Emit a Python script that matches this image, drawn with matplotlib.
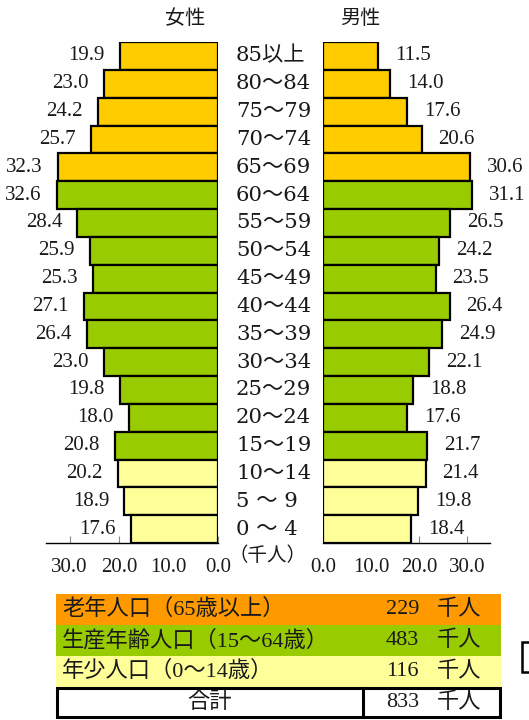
import matplotlib
matplotlib.use("Agg")
import matplotlib.pyplot as plt
from matplotlib.patches import Rectangle
from matplotlib.transforms import blended_transform_factory

plt.rcParams['font.family'] = ['Liberation Serif', 'Noto Sans CJK JP', 'DejaVu Sans']

# ---- data (top to bottom) ----
age_groups = ["85以上", "80～84", "75～79", "70～74", "65～69", "60～64", "55～59",
              "50～54", "45～49", "40～44", "35～39", "30～34", "25～29", "20～24",
              "15～19", "10～14", "5 ～ 9", "0 ～ 4"]
female = [19.9, 23.0, 24.2, 25.7, 32.3, 32.6, 28.4, 25.9, 25.3, 27.1, 26.4, 23.0,
          19.8, 18.0, 20.8, 20.2, 18.9, 17.6]
male = [11.5, 14.0, 17.6, 20.6, 30.6, 31.1, 26.5, 24.2, 23.5, 26.4, 24.9, 22.1,
        18.8, 17.6, 21.7, 21.4, 19.8, 18.4]
group_of_bar = ["old"] * 5 + ["work"] * 10 + ["young"] * 3
xticks = [0, 10, 20, 30]
xtick_labels = ["0.0", "10.0", "20.0", "30.0"]

summary_labels = ["老年人口（65歳以上）", "生産年齢人口（15～64歳）", "年少人口（0～14歳）"]
summary_values = [229, 483, 116]
total_label = "合計"
total_value = 833
unit = "千人"

bar_colors = {"old": "#FFCC00", "work": "#99CC00", "young": "#FFFF99"}
table_colors = ["#FF9900", "#99CC00", "#FFFF99"]

W, H = 529, 720
fig = plt.figure(figsize=(W / 100, H / 100), dpi=100)
FS = 15
FS_T = 16
TXT = "#1a1a1a"
AGE_FAMILY = ['DejaVu Serif', 'Noto Sans CJK JP']

def fr(x0, y0, x1, y1):
    # pixel box (top-left origin) -> figure fraction rect
    return [x0 / W, 1 - y1 / H, (x1 - x0) / W, (y1 - y0) / H]

n = len(age_groups)
ypos = list(range(n))
colors = [bar_colors[g] for g in group_of_bar]

axL = fig.add_axes(fr(46, 42, 218, 543))
axR = fig.add_axes(fr(323, 42, 490, 543))

for ax, vals, xmax, side in [(axL, female, 34.75, "L"), (axR, male, 34.8, "R")]:
    ax.barh(ypos, vals, height=1.0, color=colors, edgecolor="black", linewidth=1.6, zorder=3)
    ax.set_ylim(n - 0.5, -0.5)
    ax.set_xlim(0, xmax)
    if side == "L":
        ax.invert_xaxis()
    for s in ["top", "left", "right"]:
        ax.spines[s].set_visible(False)
    ax.spines["bottom"].set_linewidth(1.0)
    ax.set_yticks([])
    ax.set_xticks(xticks)
    ax.set_xticklabels(xtick_labels)
    ax.tick_params(axis="x", direction="in", length=5, width=0.8, color="#888888",
                   labelsize=FS, pad=11, labelcolor=TXT)
    ax.patch.set_alpha(0)
    for y, v in zip(ypos, vals):
        if side == "L":
            ax.annotate(f"{v:.1f}", xy=(v, y), xytext=(-11, 0), textcoords="offset points",
                        ha="right", va="center", fontsize=FS, color=TXT)
        else:
            ax.annotate(f"{v:.1f}", xy=(v, y), xytext=(12, 0), textcoords="offset points",
                        ha="left", va="center", fontsize=FS, color=TXT)

# age labels between the pyramids
tr = blended_transform_factory(fig.transFigure, axL.transData)
for y, lab in zip(ypos, age_groups):
    fig.text(236 / W, y, lab, transform=tr, ha="left", va="center", fontsize=15.3,
             color=TXT, family=AGE_FAMILY)

# titles
fig.text(185 / W, 1 - 20 / H, "女性", ha="center", va="center", fontsize=14.5, color=TXT)
fig.text(360 / W, 1 - 20 / H, "男性", ha="center", va="center", fontsize=14.5, color=TXT)
fig.text(267 / W, 1 - 556 / H, "（千人）", ha="center", va="center", fontsize=14, color=TXT)

# summary table drawn in pixel coordinates
axT = fig.add_axes([0, 0, 1, 1])
axT.set_xlim(0, W)
axT.set_ylim(H, 0)
axT.axis("off")
axT.patch.set_alpha(0)

row_tops = [594, 625, 656]
row_h = 31
for top, lab, val, c in zip(row_tops, summary_labels, summary_values, table_colors):
    axT.add_patch(Rectangle((56, top), 445, row_h, facecolor=c, edgecolor="none"))
    cy = top + row_h / 2
    axT.text(62, cy, lab, ha="left", va="center", fontsize=FS_T, color=TXT)
    axT.text(419, cy, f"{val}", ha="right", va="center", fontsize=FS_T, color=TXT)
    axT.text(437, cy, unit, ha="left", va="center", fontsize=FS_T, color=TXT)

ttop, tbot = 688, 717
axT.add_patch(Rectangle((57, ttop), 443, tbot - ttop, facecolor="white", edgecolor="black", linewidth=2.2))
axT.plot([363, 363], [ttop, tbot], color="black", linewidth=2.2)
cy = (ttop + tbot) / 2
axT.text(210, cy, total_label, ha="center", va="center", fontsize=FS_T, color=TXT)
axT.text(419, cy, f"{total_value}", ha="right", va="center", fontsize=FS_T, color=TXT)
axT.text(437, cy, unit, ha="left", va="center", fontsize=FS_T, color=TXT)

# partially visible box at the right edge
axT.add_patch(Rectangle((522, 642), 40, 30, facecolor="white", edgecolor="black", linewidth=1.8,
                        clip_on=False))

fig.savefig("out.png", dpi=100)
